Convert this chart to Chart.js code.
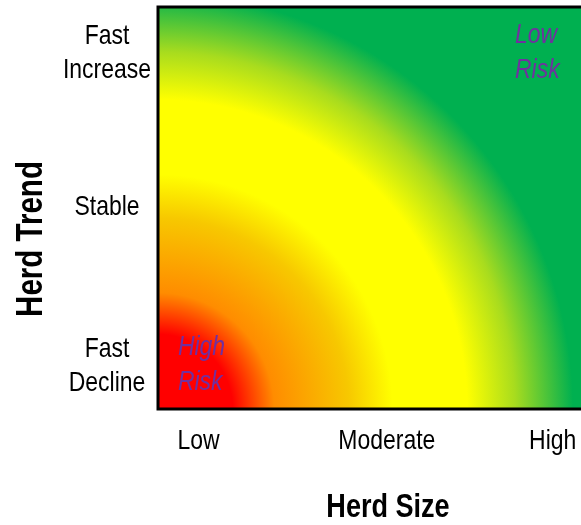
<!DOCTYPE html>
<html>
<head>
<meta charset="utf-8">
<script src="https://cdn.jsdelivr.net/npm/chart.js@4.4.1/dist/chart.umd.min.js"></script>
<style>
  body { margin: 0; background: #fff; }
  #wrap { width: 581px; height: 525px; position: relative; }
</style>
</head>
<body>
<div id="wrap"><canvas id="riskChart"></canvas></div>
<script>
// axis categories and where their labels sit on the 0..10 scales
const xTickLabels = ['Low', 'Moderate', 'High'];
const xTickValues = [0.96, 5.41, 9.33];
const yTickLabels = [['Fast', 'Decline'], ['Stable'], ['Fast', 'Increase']];
const yTickValues = [1.12, 5.07, 8.9];

// risk annotations (left edge x, middle y)
const riskText = [['High', 'Risk'], ['Low', 'Risk']];
const riskX = [0.47, 8.44];
const riskY = [1.16, 8.92];

// colour ramp from the low/low corner outwards
const rampStops = [0, 0.18, 0.28, 0.46, 0.565, 0.745, 0.86, 1];
const rampColors = ['#ff0000', '#ff0000', '#ff8c00', '#f7c800', '#ffff00', '#ffff00', '#a8dc1e', '#00b050'];

// no narrow face installed, so squeeze Liberation Sans horizontally
const squeeze = 0.82;
const face = '"Liberation Sans", Arial, sans-serif';
const riskEl = document.getElementById('riskChart');

function narrowText(ctx, text, x, y, align) {
  ctx.save();
  ctx.translate(x, y);
  ctx.scale(squeeze, 1);
  ctx.textAlign = align;
  ctx.fillText(text, 0, 0);
  ctx.restore();
}

const riskBackground = {
  id: 'riskBackground',
  beforeDatasetsDraw(chart) {
    const {ctx, chartArea: a, scales: {x, y}} = chart;
    const cx = x.getPixelForValue(x.min);
    const cy = y.getPixelForValue(y.min);
    const g = ctx.createRadialGradient(cx, cy, 0, cx, cy, 415);
    rampStops.forEach((s, i) => g.addColorStop(s, rampColors[i]));
    ctx.save();
    ctx.fillStyle = g;
    ctx.fillRect(a.left, a.top, a.right - a.left, a.bottom - a.top);
    // frame: left, top, bottom (right side runs off the picture)
    ctx.strokeStyle = '#000';
    ctx.lineWidth = 3;
    ctx.beginPath();
    ctx.moveTo(a.right + 2, a.top);
    ctx.lineTo(a.left, a.top);
    ctx.lineTo(a.left, a.bottom);
    ctx.lineTo(a.right + 2, a.bottom);
    ctx.stroke();
    ctx.restore();
  }
};

const riskLabels = {
  id: 'riskLabels',
  afterDatasetsDraw(chart) {
    const ctx = chart.ctx;
    const meta = chart.getDatasetMeta(0);
    ctx.save();
    ctx.font = 'italic 28px ' + face;
    ctx.fillStyle = '#7030a0';
    ctx.textBaseline = 'alphabetic';
    meta.data.forEach((pt, i) => {
      const lines = riskText[i];
      lines.forEach((t, j) => {
        const mid = pt.y + (j - (lines.length - 1) / 2) * 35;
        narrowText(ctx, t, pt.x, mid + 10, 'left');
      });
    });
    ctx.restore();
  }
};

const axisText = {
  id: 'axisText',
  afterDraw(chart) {
    const {ctx, chartArea: a, scales: {x, y}} = chart;
    ctx.save();
    ctx.fillStyle = '#000';
    ctx.textBaseline = 'alphabetic';
    ctx.font = '28px ' + face;
    xTickValues.forEach((v, i) => {
      narrowText(ctx, xTickLabels[i], x.getPixelForValue(v), a.bottom + 40, 'center');
    });
    yTickValues.forEach((v, i) => {
      const lines = yTickLabels[i];
      const py = y.getPixelForValue(v);
      lines.forEach((t, j) => {
        const mid = py + (j - (lines.length - 1) / 2) * 34;
        narrowText(ctx, t, 107, mid + 10, 'center');
      });
    });
    ctx.font = 'bold 33px ' + face;
    narrowText(ctx, 'Herd Size', 388, 517, 'center');
    ctx.font = 'bold 36px ' + face;
    ctx.translate(42, 239);
    ctx.rotate(-Math.PI / 2);
    narrowText(ctx, 'Herd Trend', 0, 0, 'center');
    ctx.restore();
  }
};

new Chart(riskEl, {
  type: 'scatter',
  data: {
    datasets: [{
      data: riskX.map((v, i) => ({x: v, y: riskY[i]})),
      pointRadius: 0,
      pointHoverRadius: 0
    }]
  },
  options: {
    responsive: true,
    maintainAspectRatio: false,
    animation: false,
    layout: {padding: {top: 7, right: 0, bottom: 0, left: 0}},
    plugins: {
      legend: {display: false},
      tooltip: {enabled: false}
    },
    scales: {
      x: {
        min: 0,
        max: 10,
        grid: {display: false, drawTicks: false},
        border: {display: false},
        ticks: {display: false},
        afterBuildTicks: (s) => { s.ticks = xTickValues.map(v => ({value: v})); },
        afterFit: (s) => { s.height = 116; s.paddingLeft = 0; s.paddingRight = 0; }
      },
      y: {
        min: 0,
        max: 10,
        grid: {display: false, drawTicks: false},
        border: {display: false},
        ticks: {display: false},
        afterBuildTicks: (s) => { s.ticks = yTickValues.map(v => ({value: v})); },
        afterFit: (s) => { s.width = 158; s.paddingTop = 0; s.paddingBottom = 0; }
      }
    }
  },
  plugins: [riskBackground, riskLabels, axisText]
});
</script>
</body>
</html>
